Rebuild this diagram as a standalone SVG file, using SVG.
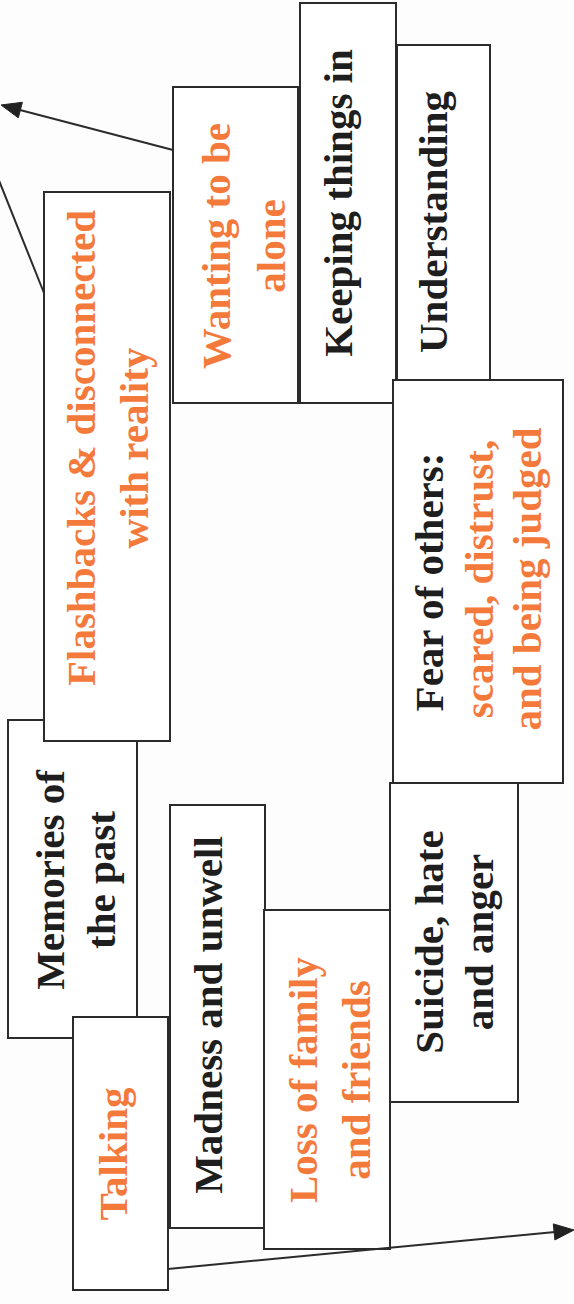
<svg xmlns="http://www.w3.org/2000/svg" width="574" height="1304" viewBox="0 0 574 1304">
  <defs>
    <style>
      .box { fill: #ffffff; stroke: #2b2b2b; stroke-width: 2; }
      .lbl { font-family: "Liberation Serif", "Times New Roman", serif; font-weight: bold; font-size: 41px; text-anchor: middle; }
      .dark { fill: #1e1e1e; }
      .warm { fill: #f47a3c; }
      .link { fill: none; stroke: #2b2b2b; stroke-width: 2; }
      .tip { fill: #222222; stroke: #222222; stroke-width: 1; stroke-linejoin: miter; }
    </style>
  </defs>

  <rect width="574" height="1304" fill="#fdfdfd"/>

  <!-- upper column of boxes -->
  <g id="node-keeping">
    <rect class="box" x="300" y="3" width="96" height="400"/>
    <text class="lbl dark" transform="translate(352,203) rotate(-90)">Keeping things in</text>
  </g>
  <g id="node-understanding">
    <rect class="box" x="397" y="45" width="93" height="335"/>
    <text class="lbl dark" transform="translate(447,222) rotate(-90)">Understanding</text>
  </g>
  <g id="node-wanting">
    <rect class="box" x="173" y="87" width="125" height="316"/>
    <text class="lbl warm" transform="translate(230,246) rotate(-90)">Wanting to be<tspan x="0" dy="55">alone</tspan></text>
  </g>
  <g id="node-fear">
    <rect class="box" x="393" y="380" width="170" height="403"/>
    <text class="lbl dark" transform="translate(443,582) rotate(-90)">Fear of others:</text>
    <text class="lbl warm" transform="translate(493,579) rotate(-90)">scared, distrust,<tspan x="0" dy="48">and being judged</tspan></text>
  </g>
  <g id="node-memories">
    <rect class="box" x="8" y="720" width="129" height="318"/>
    <text class="lbl dark" transform="translate(64,880) rotate(-90)">Memories of<tspan x="0" dy="51">the past</tspan></text>
  </g>
  <g id="node-flashbacks">
    <rect class="box" x="44" y="192" width="126" height="549"/>
    <text class="lbl warm" transform="translate(95,448) rotate(-90)">Flashbacks &amp; disconnected<tspan x="0" dy="53">with reality</tspan></text>
  </g>

  <!-- lower column of boxes -->
  <g id="node-suicide">
    <rect class="box" x="390" y="783" width="128" height="319"/>
    <text class="lbl dark" transform="translate(443,942) rotate(-90)">Suicide, hate<tspan x="0" dy="50">and anger</tspan></text>
  </g>
  <g id="node-madness">
    <rect class="box" x="170" y="805" width="95" height="423"/>
    <text class="lbl dark" transform="translate(222,1015) rotate(-90)">Madness and unwell</text>
  </g>
  <g id="node-loss">
    <rect class="box" x="264" y="910" width="126" height="339"/>
    <text class="lbl warm" transform="translate(317,1080) rotate(-90)">Loss of family<tspan x="0" dy="53">and friends</tspan></text>
  </g>
  <g id="node-talking">
    <rect class="box" x="73" y="1017" width="95" height="273"/>
    <text class="lbl warm" transform="translate(127,1154) rotate(-90)">Talking</text>
  </g>

  <!-- connectors: shafts plus filled heads -->
  <g id="connectors">
    <line class="link" x1="173" y1="150" x2="20" y2="110"/>
    <polygon class="tip" points="1,105 22.4,102.3 18.3,117.8"/>
    <line class="link" x1="44" y1="293" x2="-2" y2="178"/>
    <line class="link" x1="168" y1="1269" x2="555" y2="1232"/>
    <polygon class="tip" points="574,1230 553.3,1223.9 554.9,1239.9"/>
  </g>
</svg>
